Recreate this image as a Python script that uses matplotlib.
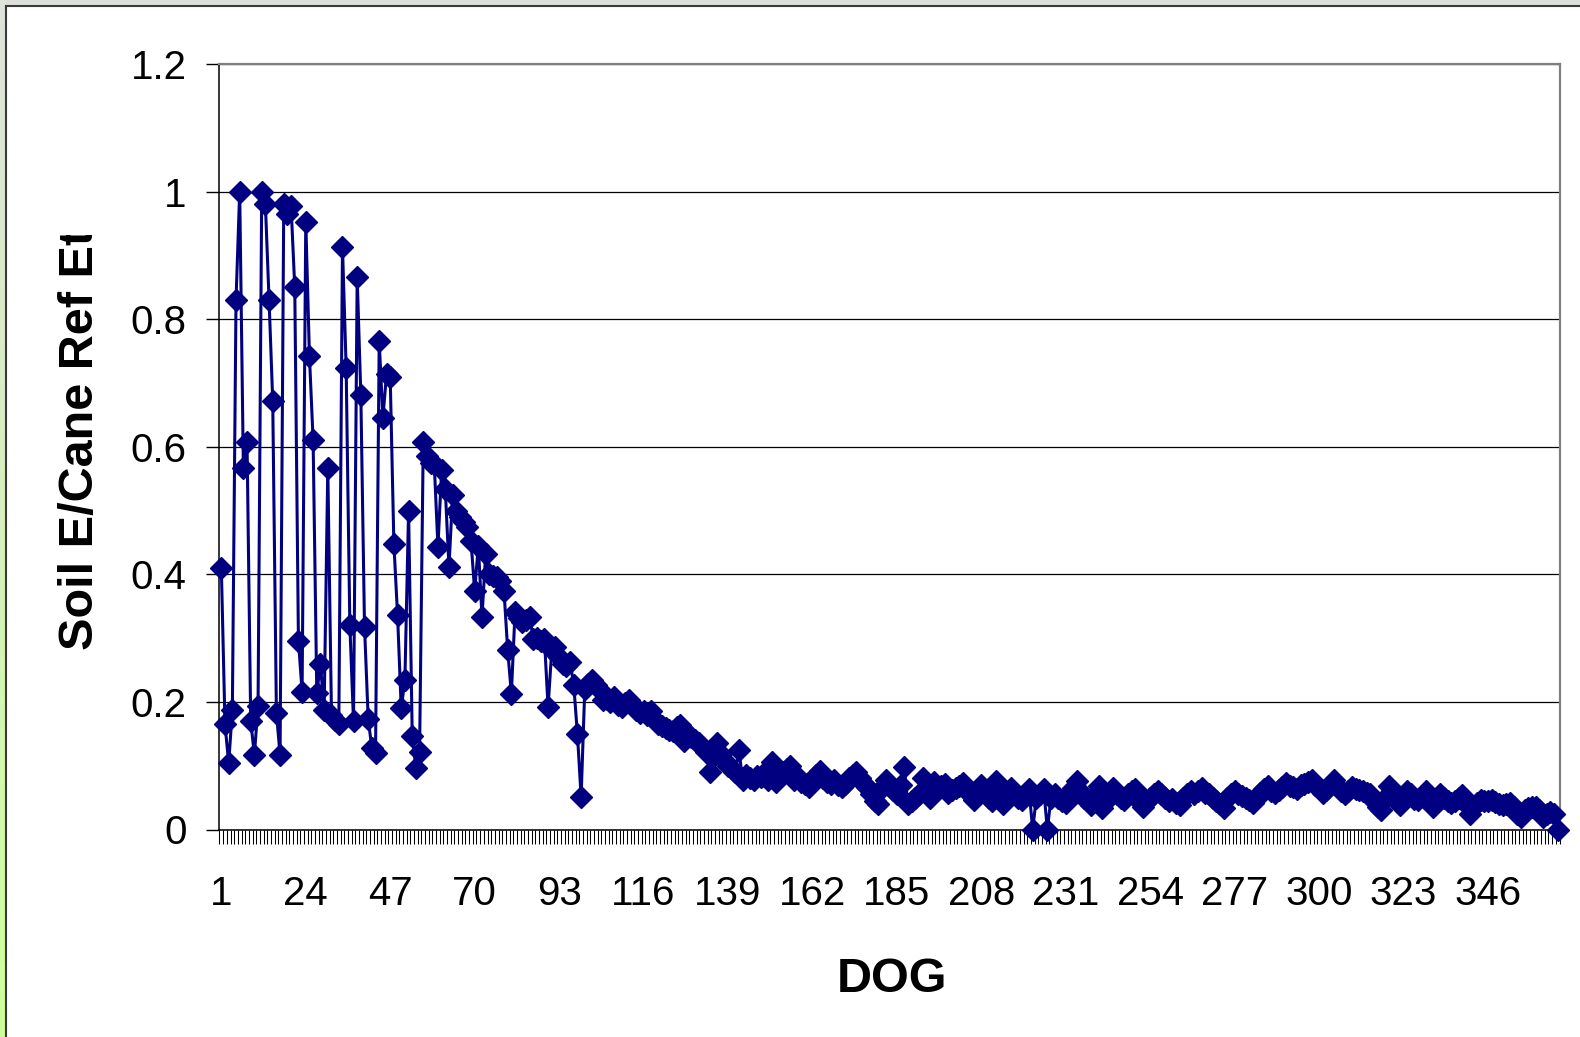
import numpy as np
import matplotlib
matplotlib.use("Agg")
import matplotlib.pyplot as plt
from matplotlib.lines import Line2D
from matplotlib.transforms import Bbox, TransformedBbox
from matplotlib.colors import LinearSegmentedColormap

plt.rcParams['font.family'] = ['Liberation Sans', 'DejaVu Sans']

# soil evaporation / cane reference ET, one value per day of growth
soil_ratio = [
    0.410, 0.165, 0.104, 0.187, 0.830, 1.000, 0.567, 0.608, 0.170, 0.117,
    0.194, 1.000, 0.980, 0.830, 0.672, 0.183, 0.117, 0.980, 0.965, 0.977,
    0.850, 0.296, 0.216, 0.953, 0.742, 0.610, 0.214, 0.259, 0.187, 0.567,
    0.180, 0.172, 0.165, 0.913, 0.724, 0.321, 0.170, 0.866, 0.681, 0.318,
    0.174, 0.127, 0.120, 0.765, 0.645, 0.714, 0.709, 0.448, 0.336, 0.190,
    0.234, 0.500, 0.147, 0.096, 0.122, 0.607, 0.586, 0.575, 0.573, 0.443,
    0.563, 0.534, 0.411, 0.524, 0.500, 0.490, 0.482, 0.474, 0.453, 0.374,
    0.445, 0.333, 0.432, 0.401, 0.398, 0.396, 0.390, 0.374, 0.281, 0.213,
    0.341, 0.331, 0.325, 0.328, 0.333, 0.298, 0.300, 0.296, 0.299, 0.192,
    0.281, 0.286, 0.270, 0.260, 0.257, 0.263, 0.226, 0.149, 0.051, 0.221,
    0.228, 0.234, 0.226, 0.221, 0.203, 0.205, 0.200, 0.208, 0.195, 0.192,
    0.198, 0.203, 0.195, 0.187, 0.182, 0.185, 0.180, 0.185, 0.172, 0.166,
    0.162, 0.159, 0.156, 0.154, 0.160, 0.164, 0.139, 0.150, 0.145, 0.141,
    0.135, 0.130, 0.121, 0.090, 0.114, 0.135, 0.118, 0.109, 0.100, 0.095,
    0.090, 0.124, 0.077, 0.085, 0.080, 0.077, 0.084, 0.082, 0.090, 0.078,
    0.106, 0.074, 0.087, 0.090, 0.095, 0.100, 0.077, 0.082, 0.075, 0.072,
    0.066, 0.075, 0.085, 0.092, 0.080, 0.075, 0.071, 0.078, 0.070, 0.066,
    0.072, 0.080, 0.085, 0.090, 0.080, 0.072, 0.066, 0.055, 0.045, 0.040,
    0.065, 0.077, 0.070, 0.062, 0.056, 0.070, 0.098, 0.040, 0.045, 0.050,
    0.055, 0.080, 0.060, 0.050, 0.075, 0.062, 0.068, 0.072, 0.058, 0.062,
    0.065, 0.068, 0.073, 0.060, 0.055, 0.047, 0.058, 0.070, 0.060, 0.050,
    0.044, 0.076, 0.060, 0.040, 0.055, 0.065, 0.058, 0.050, 0.047, 0.055,
    0.063, 0.000, 0.050, 0.055, 0.063, 0.000, 0.050, 0.055, 0.050, 0.045,
    0.042, 0.055, 0.065, 0.076, 0.060, 0.050, 0.045, 0.039, 0.055, 0.068,
    0.034, 0.045, 0.055, 0.065, 0.055, 0.050, 0.047, 0.055, 0.060, 0.063,
    0.045, 0.036, 0.045, 0.050, 0.055, 0.060, 0.055, 0.050, 0.045, 0.048,
    0.042, 0.039, 0.050, 0.055, 0.060, 0.055, 0.060, 0.065, 0.058, 0.055,
    0.050, 0.045, 0.040, 0.034, 0.050, 0.055, 0.060, 0.055, 0.052, 0.050,
    0.047, 0.042, 0.050, 0.058, 0.063, 0.068, 0.060, 0.057, 0.062, 0.066,
    0.073, 0.068, 0.066, 0.063, 0.070, 0.072, 0.075, 0.078, 0.070, 0.065,
    0.058, 0.062, 0.070, 0.078, 0.068, 0.060, 0.055, 0.060, 0.067, 0.064,
    0.062, 0.060, 0.058, 0.055, 0.045, 0.035, 0.030, 0.050, 0.068, 0.060,
    0.050, 0.038, 0.050, 0.061, 0.055, 0.048, 0.046, 0.052, 0.061, 0.045,
    0.035, 0.045, 0.056, 0.050, 0.045, 0.041, 0.045, 0.050, 0.054, 0.040,
    0.025, 0.035, 0.042, 0.046, 0.045, 0.044, 0.046, 0.043, 0.040, 0.038,
    0.040, 0.042, 0.035, 0.025, 0.020, 0.030, 0.034, 0.035, 0.036, 0.030,
    0.020, 0.025, 0.028, 0.025, 0.000,
]
n_days = len(soil_ratio)
dog = np.arange(1, n_days + 1)
dog_labels = list(range(1, n_days + 1, 23))
y_ticks = [0, 0.2, 0.4, 0.6, 0.8, 1.0, 1.2]
y_tick_labels = ['0', '0.2', '0.4', '0.6', '0.8', '1', '1.2']

W, H = 1580, 1037
fig = plt.figure(figsize=(W / 100, H / 100), dpi=100)
fig.patch.set_facecolor('white')

# window-ish frame: grey strip on top, grey-to-green strip on the left
top = fig.add_axes([0, 1 - 5.5 / H, 1, 5.5 / H])
top.set_axis_off()
top.add_patch(plt.Rectangle((0, 0), 1, 1, transform=top.transAxes, color='#dcdfda'))
side = fig.add_axes([0, 0, 6 / W, 1])
side.set_axis_off()
grad = np.linspace(0, 1, 256).reshape(-1, 1)
side_cmap = LinearSegmentedColormap.from_list('side', ['#ccff99', '#d6f0bd', '#dfe3dc'])
side.imshow(grad, aspect='auto', cmap=side_cmap, origin='lower', extent=[0, 1, 0, 1])
fig.add_artist(Line2D([6 / W, 6 / W], [0, 1 - 5.5 / H], transform=fig.transFigure,
                      color='#3a3a3a', lw=1.5))
fig.add_artist(Line2D([6 / W, 1], [1 - 5.5 / H, 1 - 5.5 / H], transform=fig.transFigure,
                      color='#3a3a3a', lw=1.5))

ax = fig.add_axes([219.5 / W, 1 - 829.5 / H, (1559.5 - 219.5) / W, (829.5 - 64) / H])
ax.plot(dog, soil_ratio, color='#000080', lw=2.2, marker='D', ms=11,
        mfc='#000080', mec='#000080', clip_on=False, zorder=3)

ax.set_xlim(0.5, n_days + 0.5)
ax.set_ylim(0, 1.2)
ax.set_yticks(y_ticks)
ax.set_yticklabels(y_tick_labels)
ax.yaxis.grid(True, color='black', lw=0.9)
ax.set_axisbelow(True)

ax.set_xticks(dog_labels)
ax.set_xticklabels([str(d) for d in dog_labels])
ax.set_xticks(np.arange(0.5, n_days + 1, 1), minor=True)
ax.tick_params(axis='x', which='major', length=0, pad=33, labelsize=29)
ax.tick_params(axis='x', which='minor', direction='out', length=10, width=0.75, color='black')
ax.tick_params(axis='y', direction='out', length=9.7, width=1, pad=14, labelsize=29)

for side_name in ('top', 'right'):
    ax.spines[side_name].set_color('#808080')
    ax.spines[side_name].set_linewidth(1.6)
for side_name in ('left', 'bottom'):
    ax.spines[side_name].set_color('black')
    ax.spines[side_name].set_linewidth(1.1)

fig.text(892 / W, 1 - 992.5 / H, 'DOG', ha='center', va='baseline',
         fontsize=35, fontweight='bold')

# axis title is longer than the space Excel gave it, so it gets cut at the top
ylab = fig.text(92.7 / W, 1 - 650 / H, 'Soil E/Cane Ref Et', rotation=90,
                rotation_mode='anchor', ha='left', va='baseline',
                fontsize=35, fontweight='bold')
ylab.set_clip_box(TransformedBbox(Bbox([[0, 0], [1, 1 - 235 / H]]), fig.transFigure))
ylab.set_clip_on(True)

fig.savefig('out.png', dpi=100)
